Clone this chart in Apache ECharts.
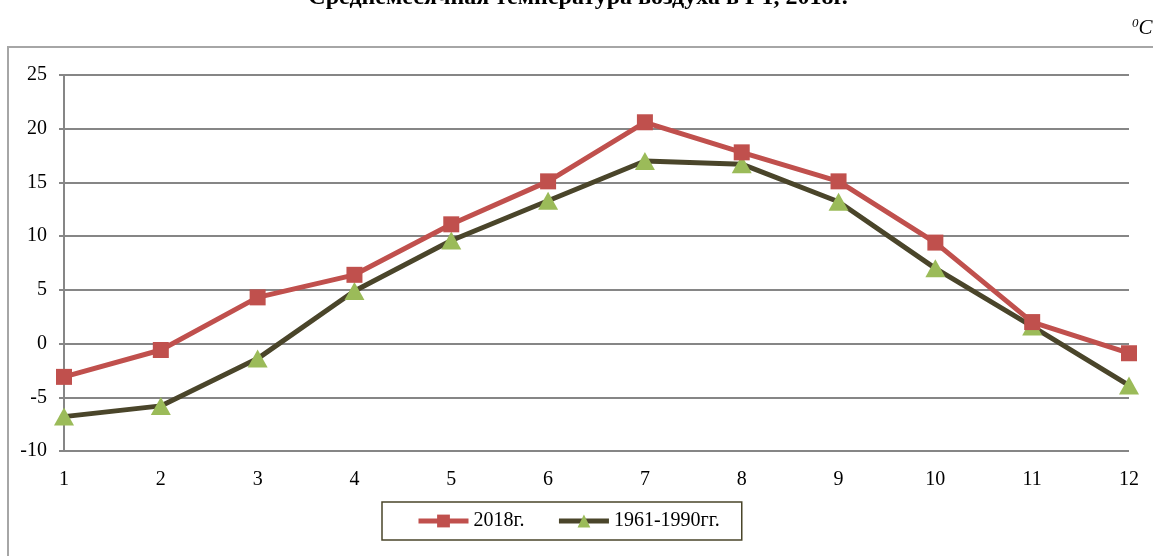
<!DOCTYPE html>
<html>
<head>
<meta charset="utf-8">
<script src="https://cdn.jsdelivr.net/npm/echarts@6/dist/echarts.min.js"></script>
<style>
  html, body { margin: 0; padding: 0; background: #fff; }
  #chart { width: 1153px; height: 556px; }
</style>
</head>
<body>
<div id="chart"></div>
<script>
// месяцы
const mesyatsy = ["1", "2", "3", "4", "5", "6", "7", "8", "9", "10", "11", "12"];
// 2018 год
const temp2018 = [-3.1, -0.6, 4.3, 6.4, 11.1, 15.1, 20.6, 17.8, 15.1, 9.4, 2.0, -0.9];
// норма 1961-1990
const norma = [-6.8, -5.8, -1.4, 4.9, 9.6, 13.3, 17.0, 16.7, 13.2, 7.0, 1.6, -3.9];
const seriesNames = ["2018г.", "1961-1990гг."];

const shrift = "'Liberation Serif', 'DejaVu Serif', serif";

let myChart = echarts.init(document.getElementById("chart"));

let option = {
  animation: false,
  backgroundColor: "#fff",
  textStyle: { fontFamily: shrift },
  graphic: [
    {
      type: "rect",
      shape: { x: 8, y: 47, width: 1160, height: 530 },
      style: { fill: "none", stroke: "#a6a6a6", lineWidth: 2 },
      z: 0
    },
    {
      type: "text",
      x: 578,
      y: 10,
      style: {
        text: "Среднемесячная температура воздуха в РТ, 2018г.",
        font: "bold 24px " + shrift,
        fill: "#000",
        align: "center",
        verticalAlign: "bottom"
      }
    },
    {
      type: "text",
      x: 1132,
      y: 28,
      style: {
        text: "{s|0}{c|C}",
        verticalAlign: "middle",
        rich: {
          s: { font: "italic 13px " + shrift, fill: "#000", verticalAlign: "top", padding: [0, 0, 8, 0] },
          c: { font: "italic 21px " + shrift, fill: "#000" }
        }
      }
    }
  ],
  grid: {
    left: 64,
    right: 24,
    top: 75,
    bottom: 105
  },
  legend: {
    data: seriesNames,
    left: 382,
    top: 502,
    width: 362,
    padding: [9, 22, 9, 34],
    borderColor: "#4a452a",
    borderWidth: 1.5,
    itemWidth: 50,
    itemHeight: 16,
    itemGap: 32,
    lineStyle: { width: 5 },
    textStyle: { fontFamily: shrift, fontSize: 20, color: "#000" }
  },
  xAxis: {
    type: "category",
    data: mesyatsy,
    boundaryGap: false,
    axisLine: { show: false },
    axisTick: { show: false },
    axisLabel: { color: "#000", fontSize: 20, fontFamily: shrift, margin: 19 }
  },
  yAxis: {
    type: "value",
    min: -10,
    max: 25,
    interval: 5,
    axisLine: { show: true, lineStyle: { color: "#868686", width: 2 } },
    axisTick: { show: true, length: 5, lineStyle: { color: "#868686", width: 2 } },
    axisLabel: { color: "#000", fontSize: 20, fontFamily: shrift, margin: 17 },
    splitLine: { show: true, lineStyle: { color: "#868686", width: 2 } }
  },
  series: [
    {
      name: seriesNames[0],
      type: "line",
      data: temp2018,
      symbol: "rect",
      symbolSize: 16,
      itemStyle: { color: "#c0504d" },
      lineStyle: { color: "#c0504d", width: 5 },
      z: 3
    },
    {
      name: seriesNames[1],
      type: "line",
      data: norma,
      symbol: "triangle",
      symbolSize: [20, 18],
      itemStyle: { color: "#9bbb59" },
      lineStyle: { color: "#4a452a", width: 5 },
      z: 2
    }
  ]
};

myChart.setOption(option);
</script>
</body>
</html>
